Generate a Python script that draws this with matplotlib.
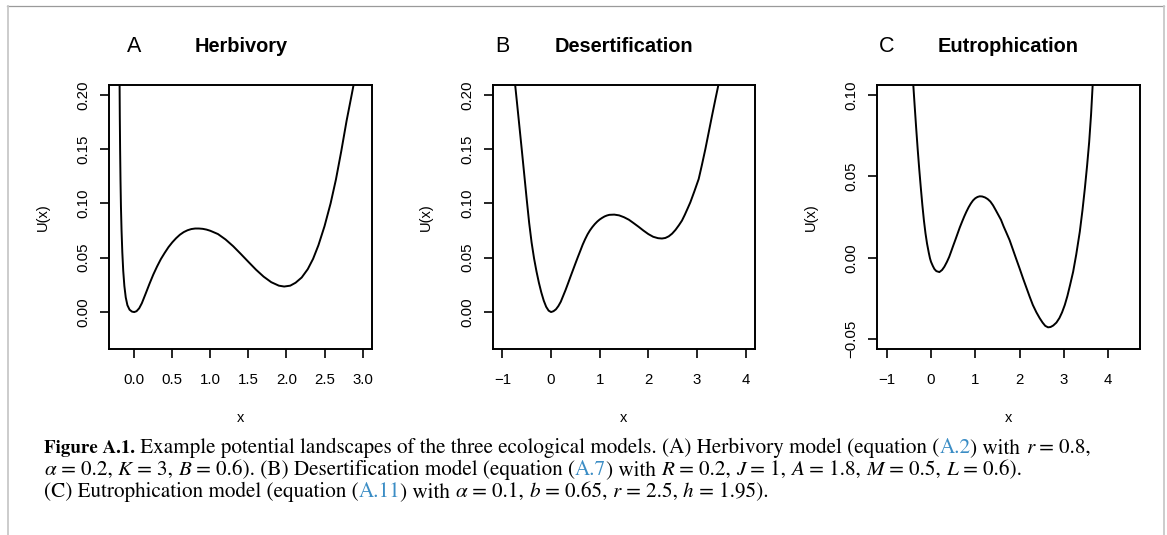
import re
import matplotlib
matplotlib.use('Agg')
import matplotlib.pyplot as plt
from matplotlib.lines import Line2D
from matplotlib.transforms import IdentityTransform, blended_transform_factory

W, H = 1167, 535

# Curves: x, U(x)
herb_x = [-0.193, -0.190, -0.186, -0.181, -0.175, -0.167, -0.157, -0.145, -0.130, -0.112,
          -0.090, -0.062, -0.030, 0.000, 0.030, 0.065, 0.100, 0.150, 0.200, 0.250,
          0.300, 0.350, 0.400, 0.450, 0.500, 0.550, 0.600, 0.650, 0.700, 0.750,
          0.800, 0.850, 0.900, 0.950, 1.000, 1.100, 1.200, 1.300, 1.400, 1.500,
          1.600, 1.700, 1.800, 1.900, 1.970, 2.050, 2.120, 2.200, 2.280, 2.350,
          2.420, 2.500, 2.580, 2.650, 2.720, 2.790, 2.857, 2.890]
herb_u = [0.212, 0.180, 0.150, 0.122, 0.097, 0.075, 0.055, 0.038, 0.024, 0.0135,
          0.0063, 0.0022, 0.0004, 0.0, 0.0008, 0.0035, 0.0082, 0.0170, 0.0260, 0.0345,
          0.0420, 0.0488, 0.0545, 0.0598, 0.0642, 0.0680, 0.0712, 0.0736, 0.0753, 0.0764,
          0.0769, 0.0769, 0.0766, 0.0759, 0.0748, 0.0718, 0.0668, 0.0606, 0.0535, 0.0462,
          0.0390, 0.0326, 0.0275, 0.0243, 0.0235, 0.0243, 0.0270, 0.0318, 0.0395, 0.0490,
          0.0615, 0.0790, 0.1000, 0.1220, 0.1480, 0.1760, 0.2000, 0.212]

des_x = [-0.745, -0.700, -0.650, -0.600, -0.550, -0.500, -0.450, -0.400, -0.350, -0.300,
         -0.250, -0.200, -0.150, -0.100, -0.050, 0.000, 0.050, 0.100, 0.150, 0.200,
         0.250, 0.300, 0.350, 0.400, 0.450, 0.500, 0.550, 0.600, 0.650, 0.700,
         0.750, 0.800, 0.850, 0.900, 0.950, 1.000, 1.050, 1.100, 1.150, 1.200,
         1.300, 1.400, 1.500, 1.600, 1.700, 1.800, 1.900, 2.000, 2.100, 2.200,
         2.280, 2.350, 2.420, 2.490, 2.560, 2.630, 2.692, 2.750, 2.810, 2.864,
         2.950, 3.036, 3.100, 3.173, 3.240, 3.310, 3.380, 3.455]
des_u = [0.212, 0.1925, 0.1705, 0.1485, 0.1260, 0.1035, 0.0820, 0.0640, 0.0495, 0.0375,
         0.0270, 0.0180, 0.0105, 0.0048, 0.0013, 0.0, 0.0008, 0.0025, 0.0055, 0.0095,
         0.0150, 0.0205, 0.0265, 0.0326, 0.0386, 0.0446, 0.0505, 0.0562, 0.0620, 0.0670,
         0.0715, 0.0752, 0.0783, 0.0810, 0.0833, 0.0852, 0.0867, 0.0880, 0.0889, 0.0895,
         0.0897, 0.0890, 0.0873, 0.0850, 0.0818, 0.0785, 0.0750, 0.0718, 0.0693, 0.0680,
         0.0677, 0.0682, 0.0697, 0.0722, 0.0757, 0.0800, 0.0842, 0.0895, 0.0955, 0.1010,
         0.1115, 0.1225, 0.1350, 0.1500, 0.1650, 0.1807, 0.1960, 0.212]

eut_x = [-0.405, -0.370, -0.335, -0.300, -0.265, -0.230, -0.195, -0.160, -0.125, -0.090,
         -0.050, -0.023, 0.000, 0.040, 0.076, 0.120, 0.189, 0.250, 0.302, 0.360,
         0.410, 0.453, 0.500, 0.550, 0.600, 0.650, 0.700, 0.750, 0.800, 0.850,
         0.900, 0.950, 1.000, 1.050, 1.100, 1.156, 1.220, 1.280, 1.340, 1.400,
         1.460, 1.520, 1.580, 1.640, 1.700, 1.775, 1.850, 1.925, 2.000, 2.080,
         2.160, 2.228, 2.300, 2.380, 2.455, 2.520, 2.580, 2.643, 2.700, 2.760,
         2.832, 2.900, 2.960, 3.021, 3.080, 3.140, 3.210, 3.280, 3.360, 3.420,
         3.474, 3.525, 3.572, 3.615, 3.655]
eut_u = [0.108, 0.0935, 0.0795, 0.0662, 0.0540, 0.0428, 0.0322, 0.0228, 0.0150, 0.0087,
         0.0030, -0.0004, -0.0025, -0.0050, -0.0069, -0.0082, -0.0088, -0.0075, -0.0055, -0.0025,
         0.0005, 0.0037, 0.0073, 0.0110, 0.0148, 0.0186, 0.0220, 0.0253, 0.0283, 0.0310,
         0.0333, 0.0352, 0.0365, 0.0373, 0.0377, 0.0376, 0.0370, 0.0360, 0.0345, 0.0322,
         0.0293, 0.0263, 0.0233, 0.0192, 0.0155, 0.0108, 0.0050, -0.0008, -0.0065, -0.0128,
         -0.0188, -0.0239, -0.0290, -0.0335, -0.0371, -0.0398, -0.0418, -0.0427, -0.0425, -0.0416,
         -0.0398, -0.0370, -0.0335, -0.0290, -0.0235, -0.0168, -0.0086, 0.0020, 0.0159, 0.0290,
         0.0424, 0.0565, 0.0710, 0.0880, 0.1080]

panel_letters = ['A', 'B', 'C']
panel_titles = ['Herbivory', 'Desertification', 'Eutrophication']
xticks = [[0.0, 0.5, 1.0, 1.5, 2.0, 2.5, 3.0], [-1, 0, 1, 2, 3, 4], [-1, 0, 1, 2, 3, 4]]
xtick_fmt = ['{:.1f}', '{:.0f}', '{:.0f}']
yticks = [[0.0, 0.05, 0.10, 0.15, 0.20], [0.0, 0.05, 0.10, 0.15, 0.20], [-0.05, 0.0, 0.05, 0.10]]
xlims = [(-0.328, 3.128), (-1.2, 4.2), (-1.22, 4.72)]
ylims = [(-0.034, 0.209), (-0.034, 0.209), (-0.056, 0.106)]

# caption markup: **bold**, *italic*, [blue link]
caption = [
    '**Figure A.1.** Example potential landscapes of the three ecological models. '
    '(A) Herbivory model (equation ([A.2]) with *r* = 0.8,',
    '*α* = 0.2, *K* = 3, *B* = 0.6). (B) Desertification model (equation ([A.7]) with '
    '*R* = 0.2, *J* = 1, *A* = 1.8, *M* = 0.5, *L* = 0.6).',
    '(C) Eutrophication model (equation ([A.11]) with *α* = 0.1, *b* = 0.65, *r* = 2.5, *h* = 1.95).',
]

# axes boxes in pixels: left, right, top, bottom
boxes = [(109.3, 372.3, 85, 349), (492.7, 755.3, 85, 349), (877, 1140, 85, 349)]

plt.rcParams['font.family'] = ['Liberation Sans', 'DejaVu Sans']

fig = plt.figure(figsize=(W / 100, H / 100), dpi=100)

curves = [(herb_x, herb_u), (des_x, des_u), (eut_x, eut_u)]
for i in range(3):
    l, r, t, b = boxes[i]
    ax = fig.add_axes([l / W, 1 - b / H, (r - l) / W, (b - t) / H])
    ax.plot(curves[i][0], curves[i][1], color='black', lw=1.4, solid_joinstyle='round')
    ax.set_xlim(*xlims[i])
    ax.set_ylim(*ylims[i])
    ax.set_xticks(xticks[i])
    ax.set_xticklabels([xtick_fmt[i].format(v).replace('-', '\u2212') for v in xticks[i]])
    ax.set_yticks(yticks[i])
    ax.set_yticklabels(['{:.2f}'.format(v).replace('-', '\u2212') for v in yticks[i]],
                       rotation=90, va='center')
    ax.tick_params(direction='out', length=6.5, width=1.2, labelsize=10.8, colors='black')
    ax.tick_params(axis='x', pad=11)
    ax.tick_params(axis='y', pad=7)
    for s in ax.spines.values():
        s.set_linewidth(1.4)

    ax.text(-66.5 / (r - l), 0.5, 'U(x)', transform=ax.transAxes, rotation=90,
            ha='center', va='center', fontsize=10.5)
    ax.text(0.5, 1 - 418 / H, 'x', transform=blended_transform_factory(ax.transAxes, fig.transFigure),
            ha='center', va='center', fontsize=10.5)
    trans = blended_transform_factory(ax.transData, fig.transFigure)
    ax.text(xticks[i][0], 1 - 52 / H, panel_letters[i], transform=trans,
            ha='center', va='baseline', fontsize=15.5)
    ax.text(0.5, 1 - 52 / H, panel_titles[i], transform=blended_transform_factory(ax.transAxes, fig.transFigure),
            ha='center', va='baseline', fontsize=14.4, fontweight='bold')

# page frame
px = IdentityTransform()
fig.add_artist(Line2D([7, 1164], [H - 6, H - 6], transform=px, color='#9a9a9a', lw=0.9))
fig.add_artist(Line2D([7.5, 7.5], [0, H - 6], transform=px, color='#c8c8c8', lw=1.3))
fig.add_artist(Line2D([1163.5, 1163.5], [0, H - 6], transform=px, color='#c8c8c8', lw=1.3))

# caption
blue = '#3b8dc5'
cap_size = 15.2
bold_size = 13.6
cap_font = 'STIXGeneral'
cap_base = [453, 475, 497]
renderer = fig.canvas.get_renderer()


def advance(s, size, **kw):
    # width of s measured between two sentinel glyphs, so spaces count
    a = fig.text(0, 0, 'X' + s + 'X', fontsize=size, family=cap_font, **kw)
    b = fig.text(0, 0, 'XX', fontsize=size, family=cap_font, **kw)
    w = a.get_window_extent(renderer).width - b.get_window_extent(renderer).width
    a.remove()
    b.remove()
    return w


for line, yb in zip(caption, cap_base):
    x = 44
    for tok in re.split(r'(\*\*.+?\*\*|\*.+?\*|\[.+?\])', line):
        if not tok:
            continue
        kw = dict(fontweight='normal', fontstyle='normal')
        color, size = 'black', cap_size
        if tok.startswith('**'):
            tok, kw['fontweight'], size = tok[2:-2], 'bold', bold_size
        elif tok.startswith('*'):
            tok, kw['fontstyle'] = tok[1:-1], 'italic'
        elif tok.startswith('['):
            tok, color = tok[1:-1], blue
        fig.text(x, H - yb, tok, transform=px, fontsize=size, family=cap_font,
                 color=color, va='baseline', ha='left', **kw)
        x += advance(tok, size, **kw)

fig.savefig('out.png', dpi=100)
